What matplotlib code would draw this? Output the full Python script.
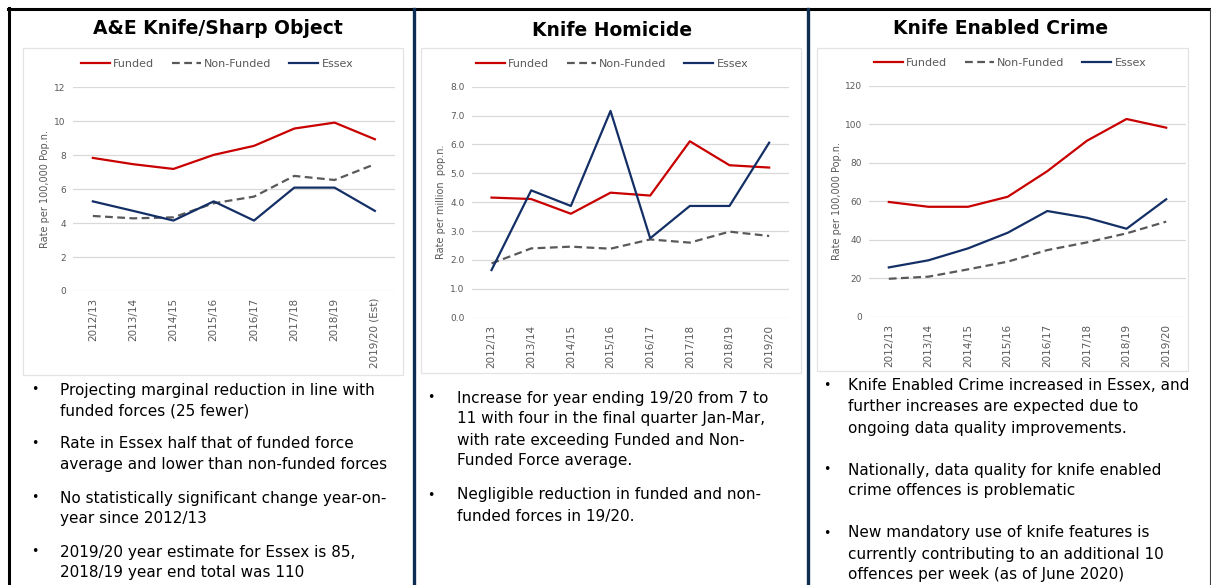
import numpy as np
import matplotlib
matplotlib.use('Agg')
import matplotlib.pyplot as plt
from matplotlib.lines import Line2D
from matplotlib.patches import Rectangle

# ---- data ----
years = ['2012/13', '2013/14', '2014/15', '2015/16', '2016/17', '2017/18', '2018/19']
years_ae = years + ['2019/20 (Est)']
years_all = years + ['2019/20']

ae_funded    = [7.84, 7.47, 7.19, 8.02, 8.55, 9.57, 9.92, 8.94]
ae_nonfunded = [4.42, 4.28, 4.34, 5.17, 5.56, 6.78, 6.54, 7.47]
ae_essex     = [5.28, 4.72, 4.15, 5.28, 4.15, 6.09, 6.09, 4.72]

hom_funded    = [4.16, 4.11, 3.60, 4.33, 4.23, 6.11, 5.28, 5.20]
hom_nonfunded = [1.88, 2.40, 2.46, 2.39, 2.71, 2.60, 2.98, 2.83]
hom_essex     = [1.65, 4.41, 3.87, 7.16, 2.75, 3.87, 3.87, 6.06]

kec_funded    = [59.6, 57.1, 57.1, 62.3, 75.6, 91.4, 102.7, 98.2]
kec_nonfunded = [19.7, 20.8, 24.6, 28.6, 34.6, 38.6, 43.3, 49.4]
kec_essex     = [25.6, 29.3, 35.5, 43.6, 54.9, 51.4, 45.7, 61.0]

titles = ['A&E Knife/Sharp Object', 'Knife Homicide', 'Knife Enabled Crime']
ylabels = ['Rate per 100,000 Pop.n.', 'Rate per million  pop.n.', 'Rate per 100,000 Pop.n.']

notes_ae = [
    ['Projecting marginal reduction in line with', 'funded forces (25 fewer)'],
    ['Rate in Essex half that of funded force', 'average and lower than non-funded forces'],
    ['No statistically significant change year-on-', 'year since 2012/13'],
    ['2019/20 year estimate for Essex is 85,', '2018/19 year end total was 110'],
]
notes_hom = [
    ['Increase for year ending 19/20 from 7 to', '11 with four in the final quarter Jan-Mar,',
     'with rate exceeding Funded and Non-', 'Funded Force average.'],
    ['Negligible reduction in funded and non-', 'funded forces in 19/20.'],
]
notes_kec = [
    ['Knife Enabled Crime increased in Essex, and', 'further increases are expected due to',
     'ongoing data quality improvements.'],
    ['Nationally, data quality for knife enabled', 'crime offences is problematic'],
    ['New mandatory use of knife features is', 'currently contributing to an additional 10',
     'offences per week (as of June 2020)'],
]

W, H = 1211, 585
RED = '#c80000'
GREY = '#595959'
NAVY = '#132f66'
GRID = '#d9d9d9'

plt.rcParams['font.family'] = 'DejaVu Sans'

fig = plt.figure(figsize=(W / 100, H / 100), dpi=100)
fig.patch.set_facecolor('white')


def box(x0, y0, x1, y1):
    # pixel box -> figure fraction rect
    return [x0 / W, 1 - y1 / H, (x1 - x0) / W, (y1 - y0) / H]


def fx(x):
    return x / W


def fy(y):
    return 1 - y / H


# panel frames / borders
fig.add_artist(Line2D([fx(8), fx(1210)], [fy(9), fy(9)], color='black', lw=2.2))
fig.add_artist(Line2D([fx(9), fx(9)], [fy(8), fy(585)], color='black', lw=2.2))
fig.add_artist(Line2D([fx(413.5), fx(413.5)], [fy(9), fy(585)], color='#0e2d52', lw=2.4))
fig.add_artist(Line2D([fx(808), fx(808)], [fy(9), fy(585)], color='#0e2d52', lw=2.4))
fig.add_artist(Line2D([fx(1209.5), fx(1209.5)], [fy(9), fy(585)], color='#404040', lw=0.8))

chart_boxes = [(23, 48, 403, 375), (421, 48, 801, 373), (817, 48, 1188, 371)]
for (x0, y0, x1, y1) in chart_boxes:
    fig.add_artist(Rectangle((fx(x0), fy(y1)), (x1 - x0) / W, (y1 - y0) / H,
                             transform=fig.transFigure, fill=False, edgecolor='#e3e3e3', lw=0.9))

panels = [
    dict(rect=box(72.7, 87.3, 395, 291), cats=years_ae, series=(ae_funded, ae_nonfunded, ae_essex),
         ylim=(0, 12), ticks=np.arange(0, 13, 2), fmt='{:.0f}', title_xy=(218, 28), leg_xy=(217, 64),
         ylab_x=45),
    dict(rect=box(471.7, 86.7, 789, 317.7), cats=years_all, series=(hom_funded, hom_nonfunded, hom_essex),
         ylim=(0, 8), ticks=np.arange(0, 9, 1), fmt='{:.1f}', title_xy=(612, 30), leg_xy=(612, 64),
         ylab_x=441),
    dict(rect=box(869, 85.7, 1186, 316.7), cats=years_all, series=(kec_funded, kec_nonfunded, kec_essex),
         ylim=(0, 120), ticks=np.arange(0, 121, 20), fmt='{:.0f}', title_xy=(1001, 29), leg_xy=(1010, 63),
         ylab_x=837),
]

for i, p in enumerate(panels):
    ax = fig.add_axes(p['rect'])
    x = np.arange(len(p['cats']))
    f, nf, es = p['series']
    l1, = ax.plot(x, f, color=RED, lw=1.6, label='Funded')
    l2, = ax.plot(x, nf, color=GREY, lw=1.6, ls=(0, (3.5, 2)), label='Non-Funded')
    l3, = ax.plot(x, es, color=NAVY, lw=1.6, label='Essex')
    ax.set_xlim(-0.5, len(x) - 0.5)
    ax.set_ylim(*p['ylim'])
    ax.set_yticks(p['ticks'])
    ax.set_yticklabels([p['fmt'].format(t) for t in p['ticks']], fontsize=6.5, color=GREY)
    ax.set_xticks(x)
    ax.set_xticklabels(p['cats'], rotation=90, fontsize=7.5, color=GREY)
    ax.tick_params(length=0, pad=5)
    ax.grid(axis='y', color=GRID, lw=0.9)
    ax.set_axisbelow(True)
    for s in ax.spines.values():
        s.set_visible(False)
    ax.patch.set_alpha(0)

    # y label at a fixed pixel x, centred on the plot area
    ymid = (p['rect'][1] + p['rect'][3] / 2)
    fig.text(fx(p['ylab_x']), ymid, ylabels[i], rotation=90, ha='center', va='center',
             fontsize=7, color=GREY)

    fig.text(fx(p['title_xy'][0]), fy(p['title_xy'][1]), titles[i], ha='center', va='center',
             fontsize=13.5, fontweight='bold', color='black')

    fig.legend(handles=[l1, l2, l3], loc='center', ncol=3, frameon=False,
               bbox_to_anchor=(fx(p['leg_xy'][0]), fy(p['leg_xy'][1])),
               fontsize=8, labelcolor=GREY, handlelength=2.6, handletextpad=0.3,
               columnspacing=1.6)

# bullet notes
note_sets = [
    (notes_ae, 35, 60, [390, 444, 498, 552]),
    (notes_hom, 431, 457, [398, 495]),
    (notes_kec, 827, 848, [386, 470, 533]),
]
line_h = 21
for notes, bx, tx, starts in note_sets:
    for para, y0 in zip(notes, starts):
        fig.text(fx(bx), fy(y0), '\u2022', ha='center', va='center', fontsize=9, color='black')
        for k, line in enumerate(para):
            fig.text(fx(tx), fy(y0 + k * line_h), line, ha='left', va='center',
                     fontsize=11, color='black')

fig.savefig('out.png', dpi=100)
